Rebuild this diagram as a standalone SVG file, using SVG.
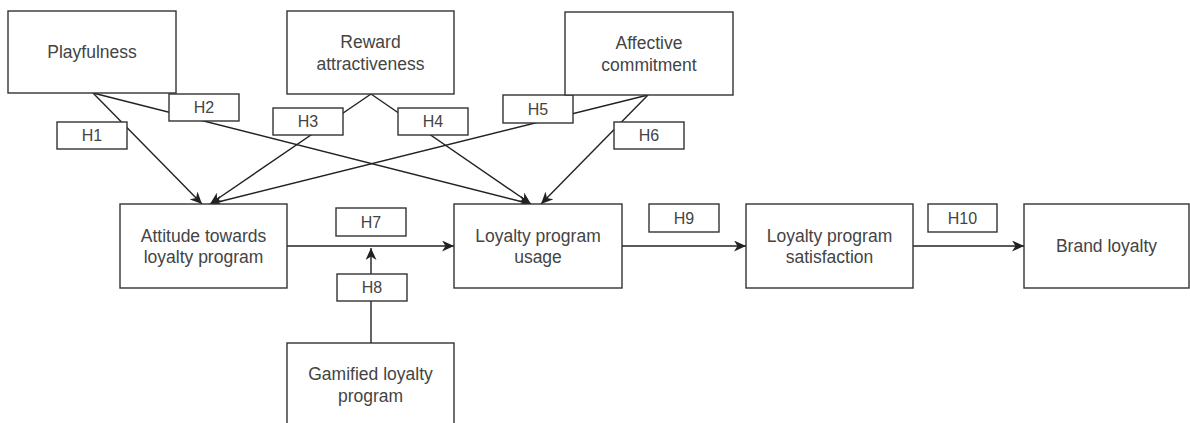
<svg xmlns="http://www.w3.org/2000/svg" width="1190" height="423" viewBox="0 0 1190 423">
<defs>
<style>
.box{fill:#fff;stroke:#333;stroke-width:1.4}
.lbl{fill:#fff;stroke:#333;stroke-width:1.4}
.t{font-family:"Liberation Sans",Arial,sans-serif;font-size:17.5px;fill:#444;text-anchor:middle}
.h{font-family:"Liberation Sans",Arial,sans-serif;font-size:16px;fill:#444;text-anchor:middle}
.e{fill:none;stroke:#222;stroke-width:1.4;marker-end:url(#ah)}
</style>
<marker id="ah" markerWidth="13" markerHeight="11" refX="12" refY="5.5" orient="auto" markerUnits="userSpaceOnUse">
<path d="M0,0 L12,5.5 L0,11 L3.5,5.5 z" fill="#222"/>
</marker>
</defs>
<rect width="1190" height="423" fill="#fff"/>
<g id="connectors">
<path class="e" d="M93,93 L202,204"/>
<path class="e" d="M93,93 L531,204"/>
<path class="e" d="M371,94 L210,204"/>
<path class="e" d="M371,94 L531,204"/>
<path class="e" d="M648,95 L210,204"/>
<path class="e" d="M648,95 L541,204"/>
<path class="e" d="M287,246 L454,246"/>
<path class="e" d="M371,343 L371,248"/>
<path class="e" d="M622,246 L746,246"/>
<path class="e" d="M913,246 L1024,246"/>
</g>
<g id="labels">
<g id="H1"><rect class="lbl" x="57" y="122" width="70" height="27"/><text class="h" x="92" y="141">H1</text></g>
<g id="H2"><rect class="lbl" x="169" y="94" width="70" height="27"/><text class="h" x="204" y="113">H2</text></g>
<g id="H3"><rect class="lbl" x="273" y="108" width="70" height="27"/><text class="h" x="308" y="127">H3</text></g>
<g id="H4"><rect class="lbl" x="398" y="108" width="70" height="27"/><text class="h" x="433" y="127">H4</text></g>
<g id="H5"><rect class="lbl" x="503" y="95" width="70" height="28"/><text class="h" x="538" y="114.5">H5</text></g>
<g id="H6"><rect class="lbl" x="614" y="122" width="70" height="27"/><text class="h" x="649" y="141">H6</text></g>
<g id="H7"><rect class="lbl" x="336" y="208" width="70" height="28"/><text class="h" x="371" y="227.5">H7</text></g>
<g id="H8"><rect class="lbl" x="337" y="274" width="70" height="27"/><text class="h" x="372" y="293">H8</text></g>
<g id="H9"><rect class="lbl" x="649" y="204" width="70" height="28"/><text class="h" x="684" y="223.5">H9</text></g>
<g id="H10"><rect class="lbl" x="928" y="204" width="69" height="28"/><text class="h" x="962.5" y="223.5">H10</text></g>
</g>
<g id="playfulness"><rect class="box" x="8" y="11" width="168" height="82"/><text class="t" x="92" y="58">Playfulness</text></g>
<g id="reward"><rect class="box" x="287" y="11" width="167" height="83"/><text class="t" x="370.5" y="48">Reward</text><text class="t" x="370.5" y="70">attractiveness</text></g>
<g id="affective"><rect class="box" x="565" y="12" width="168" height="83"/><text class="t" x="649" y="49">Affective</text><text class="t" x="649" y="71">commitment</text></g>
<g id="attitude"><rect class="box" x="120" y="204" width="167" height="84"/><text class="t" x="203.5" y="241.5">Attitude towards</text><text class="t" x="203.5" y="263">loyalty program</text></g>
<g id="usage"><rect class="box" x="454" y="204" width="168" height="84"/><text class="t" x="538" y="241.5">Loyalty program</text><text class="t" x="538" y="263">usage</text></g>
<g id="satisfaction"><rect class="box" x="746" y="204" width="167" height="84"/><text class="t" x="829.5" y="241.5">Loyalty program</text><text class="t" x="829.5" y="263">satisfaction</text></g>
<g id="brand"><rect class="box" x="1024" y="204" width="165" height="84"/><text class="t" x="1106.5" y="252">Brand loyalty</text></g>
<g id="gamified"><rect class="box" x="287" y="343" width="167" height="86"/><text class="t" x="370.5" y="380">Gamified loyalty</text><text class="t" x="370.5" y="401.5">program</text></g>
</svg>
